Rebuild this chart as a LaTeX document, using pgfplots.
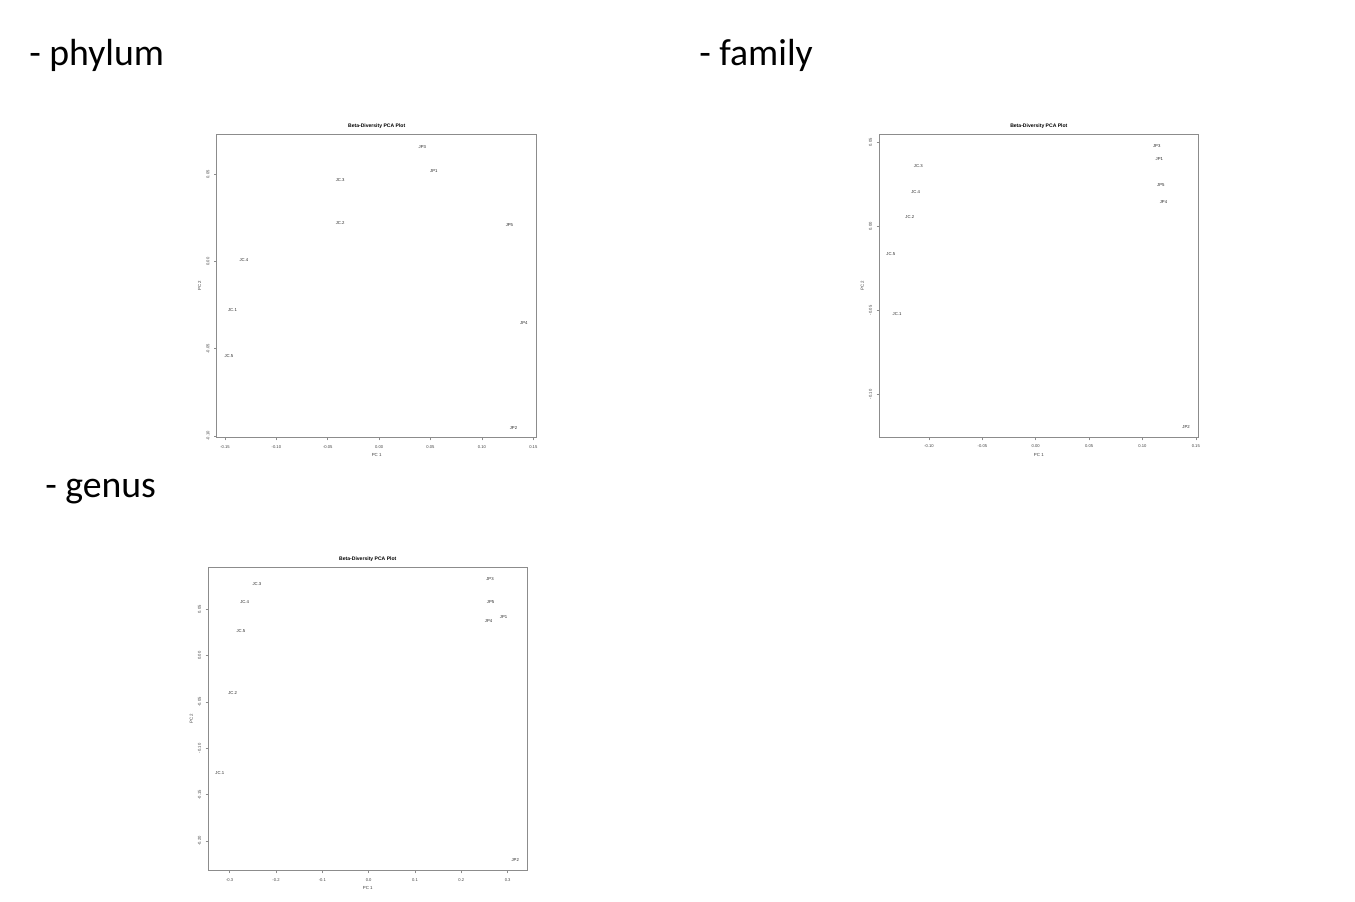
\documentclass[border=0pt]{standalone}
\usepackage{fontspec}
\setmainfont{Carlito}
\newfontfamily\rfont{Liberation Sans}
\usepackage{pgfplots}
\usepackage{pgfplotstable}
\pgfplotsset{compat=1.18}

\pgfplotstableread{
x y lab
0.0421 0.0658 JP3
0.0532 0.0518 JP1
-0.0379 0.0469 JC.3
-0.0379 0.0218 JC.2
0.1268 0.0211 JP5
-0.1316 0.0006 JC.4
-0.1427 -0.0276 JC.1
0.1408 -0.0352 JP4
-0.1462 -0.0544 JC.5
0.1307 -0.0955 JP2
}\phylum

\pgfplotstableread{
x y lab
0.1134 0.0476 JP3
0.1159 0.0399 JP1
-0.1101 0.0360 JC.3
0.1172 0.0248 JP5
-0.1125 0.0202 JC.4
0.1197 0.0145 JP4
-0.1181 0.0054 JC.2
-0.1359 -0.0163 JC.5
-0.1300 -0.0524 JC.1
0.1409 -0.1197 JP2
}\family

\pgfplotstableread{
x y lab
0.2618 0.0824 JP3
-0.2411 0.0774 JC.3
-0.2677 0.0583 JC.4
0.2633 0.0583 JP5
0.2913 0.0415 JP1
0.2590 0.0371 JP4
-0.2756 0.0270 JC.5
-0.2935 -0.0402 JC.2
-0.3212 -0.1269 JC.1
0.3164 -0.2207 JP2
}\genus

\pgfplotsset{
  rplot/.style={
    scale only axis,
    anchor=north west,
    clip=false,
    axis line style={black!45, line width=0.5pt},
    tick style={black!45, line width=0.4pt},
    major tick length=2pt,
    tick align=outside,
    xtick pos=bottom, ytick pos=left,
    title={\bfseries Beta-Diversity PCA Plot},
    title style={font=\rfont\fontsize{3.8}{4}\selectfont, at={(axis description cs:0.5,1.0)}, anchor=center, yshift=0pt},
    xlabel={PC 1}, ylabel={PC 2},
    label style={font=\rfont\fontsize{3.3}{4}\selectfont, text=black!75},
    xlabel style={at={(axis description cs:0.5,-0.056)}, anchor=center},
    ylabel style={at={(axis description cs:-0.053,0.5)}, anchor=center},
    ticklabel style={font=\rfont\fontsize{3.1}{4}\selectfont, text=black!75},
    yticklabel style={rotate=90, anchor=south},
  },
  pts/.style={
    draw=none, mark=none,
    nodes near coords,
    point meta=explicit symbolic,
    every node near coord/.style={anchor=center, font=\rfont\fontsize{3.2}{4}\selectfont, text=black!85, inner sep=0pt},
  },
}

\begin{document}
\begin{tikzpicture}
\path[use as bounding box] (0pt,0pt) rectangle (1016.25pt,-676.5pt);

\node[anchor=base west, font=\fontsize{28.3}{33}\selectfont, inner sep=0pt] at (21.75pt,-49.3pt) {- phylum};
\node[anchor=base west, font=\fontsize{28.3}{33}\selectfont, inner sep=0pt] at (524.25pt,-49.3pt) {- family};
\node[anchor=base west, font=\fontsize{28.3}{33}\selectfont, inner sep=0pt] at (33.75pt,-372.75pt) {- genus};

\begin{axis}[rplot, at={(162.5pt,-100.7pt)}, width=240pt, height=227.6pt,
  xmin=-0.1581, xmax=0.1533, ymin=-0.1011, ymax=0.073,
  xtick={-0.15,-0.10,-0.05,0,0.05,0.10,0.15},
  xticklabels={-0.15,-0.10,-0.05,0.00,0.05,0.10,0.15},
  ytick={-0.10,-0.05,0,0.05},
  yticklabels={-0.10,-0.05,0.00,0.05}]
\addplot[pts] table[x=x, y=y, meta=lab] {\phylum};
\end{axis}

\begin{axis}[rplot, at={(659.5pt,-100.7pt)}, width=239.25pt, height=227.6pt,
  xmin=-0.1466, xmax=0.1524, ymin=-0.1258, ymax=0.0548,
  xtick={-0.10,-0.05,0,0.05,0.10,0.15},
  xticklabels={-0.10,-0.05,0.00,0.05,0.10,0.15},
  ytick={-0.10,-0.05,0,0.05},
  yticklabels={-0.10,-0.05,0.00,0.05}]
\addplot[pts] table[x=x, y=y, meta=lab] {\family};
\end{axis}

\begin{axis}[rplot, at={(156.2pt,-425.25pt)}, width=239.25pt, height=227.8pt,
  xmin=-0.3462, xmax=0.3423, ymin=-0.232, ymax=0.0957,
  xtick={-0.3,-0.2,-0.1,0,0.1,0.2,0.3},
  xticklabels={-0.3,-0.2,-0.1,0.0,0.1,0.2,0.3},
  ytick={-0.20,-0.15,-0.10,-0.05,0,0.05},
  yticklabels={-0.20,-0.15,-0.10,-0.05,0.00,0.05}]
\addplot[pts] table[x=x, y=y, meta=lab] {\genus};
\end{axis}
\end{tikzpicture}
\end{document}
